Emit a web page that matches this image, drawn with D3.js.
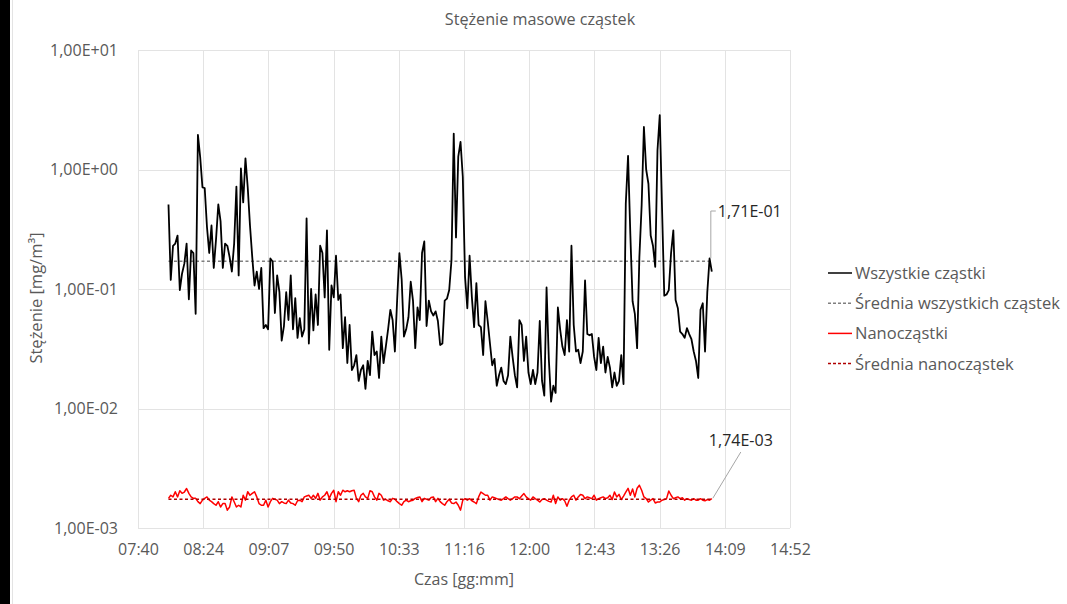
<!DOCTYPE html>
<html>
<head>
<meta charset="utf-8">
<script src="https://cdn.jsdelivr.net/npm/d3@7"></script>
<style>
  body { margin: 0; background: #fff; }
  svg text { font-family: "Open Sans", sans-serif; }
</style>
</head>
<body>
<svg id="chart"></svg>
<script>
'use strict';

// measurement start (08:01 as fraction of day) and sampling step (1.5 min)
var startDay = 481 / 1440;
var stepDay = 1.5 / 1440;

// Wszystkie cząstki [mg/m3]
var allParticles = [
    0.51, 0.119, 0.23, 0.24, 0.28, 0.098, 0.135, 0.163, 0.24, 0.082,
    0.21, 0.20, 0.062, 1.95, 1.27, 0.71, 0.70, 0.33, 0.20, 0.34,
    0.15, 0.26, 0.51, 0.37, 0.15, 0.24, 0.23, 0.185, 0.14, 0.24,
    0.72, 0.13, 1.02, 0.53, 1.24, 0.71, 0.34, 0.185, 0.107, 0.14,
    0.10, 0.15, 0.047, 0.05, 0.046, 0.18, 0.17, 0.063, 0.13, 0.094,
    0.037, 0.049, 0.094, 0.055, 0.13, 0.046, 0.084, 0.039, 0.057, 0.040,
    0.046,
    0.39, 0.035, 0.10, 0.045, 0.09, 0.05, 0.23, 0.20, 0.085, 0.31,
    0.031, 0.107, 0.085, 0.19, 0.081, 0.09, 0.032, 0.058, 0.024, 0.05,
    0.021, 0.023, 0.028, 0.017, 0.021, 0.023, 0.0146, 0.025, 0.019, 0.044,
    0.028, 0.030, 0.018, 0.040, 0.024, 0.033, 0.046, 0.067, 0.055, 0.030,
    0.081, 0.20, 0.12, 0.040, 0.046, 0.058, 0.115, 0.08, 0.032, 0.07,
    0.055, 0.20, 0.25, 0.049, 0.08, 0.065, 0.06, 0.065, 0.054, 0.034,
    0.035, 0.08,
    0.083, 0.098, 0.174, 2.0, 0.27, 1.28, 1.7, 0.87, 0.126, 0.069,
    0.19, 0.086, 0.048, 0.112, 0.05, 0.048, 0.028, 0.079, 0.054, 0.035,
    0.023, 0.026, 0.0155, 0.019, 0.022, 0.017, 0.016, 0.019, 0.040, 0.027,
    0.019, 0.015, 0.055, 0.05, 0.025, 0.040, 0.020, 0.016, 0.021, 0.016,
    0.020, 0.054, 0.017, 0.0128, 0.103, 0.026, 0.0114, 0.0155, 0.0135, 0.070,
    0.046, 0.033, 0.028, 0.055, 0.030, 0.23, 0.05, 0.030, 0.031, 0.024,
    0.030, 0.118,
    0.042, 0.041, 0.042, 0.027, 0.021, 0.039, 0.024, 0.033, 0.020, 0.027,
    0.022, 0.015, 0.020, 0.0155, 0.017, 0.028, 0.016, 0.52, 1.3, 0.29,
    0.079, 0.062, 0.032, 0.185, 0.50, 2.27, 1.0, 0.76, 0.28, 0.23,
    0.153, 1.45, 2.85, 0.48, 0.088, 0.09, 0.098, 0.2, 0.31, 0.081,
    0.069, 0.044, 0.042, 0.039, 0.047, 0.042, 0.038, 0.030, 0.025, 0.018,
    0.067, 0.076, 0.030, 0.094, 0.18, 0.14
];

// Nanocząstki [mg/m3 * 1e-3]
var nanoParticles = [
    1.77, 1.88, 1.82, 2.01, 1.82, 2.05, 1.95, 2.0, 2.14, 1.95,
    1.82, 1.77, 1.77, 1.66, 1.60, 1.71, 1.77, 1.82, 1.71, 1.66,
    1.60, 1.55, 1.66, 1.50, 1.60, 1.60, 1.41, 1.50, 1.82, 1.66,
    1.50, 1.55, 1.50, 1.88, 1.71, 2.01, 1.88, 1.95, 2.01, 1.82,
    1.60, 1.55, 1.55, 1.71, 1.50, 1.66, 1.77, 1.74, 1.71, 1.60,
    1.66, 1.62, 1.60, 1.71, 1.62, 1.60, 1.55, 1.69, 1.71, 1.66,
    1.82, 1.85, 1.88, 1.77, 1.88, 1.77, 1.95, 1.71, 1.82, 1.88,
    2.01, 1.77, 1.95, 2.07, 1.66, 2.01, 1.88, 2.07, 2.01, 2.05,
    2.01, 2.05, 2.07, 1.77, 1.66, 1.88, 1.95, 1.82, 1.77, 2.05,
    2.01, 1.82, 1.71, 1.95, 1.88, 1.71, 1.74, 1.69, 1.66, 1.77,
    1.74, 1.66, 1.60, 1.55, 1.66, 1.71, 1.66, 1.69, 1.71, 1.77,
    1.80, 1.82, 1.66, 1.77, 1.74, 1.71, 1.80, 1.82, 1.66, 1.77,
    1.66, 1.60, 1.55, 1.66, 1.74,
    1.62, 1.60, 1.65, 1.55, 1.41, 1.71, 1.76, 1.71, 1.76, 1.69,
    1.65, 1.60, 1.82, 2.0, 1.94, 1.88, 1.88, 1.71, 1.82, 1.79,
    1.76, 1.73, 1.71, 1.76, 1.82, 1.76, 1.71, 1.76, 1.82, 1.82,
    1.76, 1.85, 1.94, 1.82, 1.76, 1.71, 1.82, 1.76, 1.71, 1.65,
    1.73, 1.76, 1.71, 1.67, 1.65, 1.88, 1.60, 1.82, 1.71, 1.76,
    1.69, 1.52, 1.71, 1.82, 1.88, 1.71, 1.82, 1.91, 1.88, 1.76,
    1.82, 1.79, 1.76, 1.88, 1.71, 1.76, 1.79, 1.82, 1.76, 1.79,
    1.88, 1.73, 2.0, 1.82, 1.91, 1.73, 1.85, 2.0, 2.15, 1.88,
    2.12, 1.82, 2.15, 2.28, 2.07, 1.82, 1.76, 1.65, 1.71, 1.76,
    1.62, 1.65, 1.65, 1.71, 1.73, 1.76, 2.04, 1.88, 1.76, 1.79,
    1.82, 1.76, 1.79, 1.71, 1.76, 1.73, 1.71, 1.76, 1.71, 1.71,
    1.76, 1.71, 1.69, 1.73, 1.71, 1.76
];
var nanoUnit = 1e-3;

// averages
var meanAll = 0.171;
var meanNano = 0.00174;
var meanAllLabel = '1,71E-01';
var meanNanoLabel = '1,74E-03';

// axes
var xTickDays = [0.32, 0.35, 0.38, 0.41, 0.44, 0.47, 0.50, 0.53, 0.56, 0.59, 0.62];
var xTickLabels = ['07:40', '08:24', '09:07', '09:50', '10:33', '11:16', '12:00', '12:43', '13:26', '14:09', '14:52'];
var yTickValues = [1e-3, 1e-2, 1e-1, 1e0, 1e1];
var yTickLabels = ['1,00E-03', '1,00E-02', '1,00E-01', '1,00E+00', '1,00E+01'];

var legendNames = ['Wszystkie cząstki', 'Średnia wszystkich cząstek', 'Nanocząstki', 'Średnia nanocząstek'];

// Setting up the chart area
var canvasWidth = 1067;
var canvasHeight = 604;
var plot = { left: 138, right: 790, top: 50, bottom: 528 };
var textColor = '#595959';
var gridColor = '#e3e3e3';
var fontSize = '16px';

var svg = d3.select('#chart')
    .attr('width', canvasWidth)
    .attr('height', canvasHeight);

svg.append('rect')
    .attr('width', canvasWidth)
    .attr('height', canvasHeight)
    .attr('fill', '#fff');

// dark strip + chart border on the left
svg.append('rect')
    .attr('x', 0).attr('y', 0)
    .attr('width', 10).attr('height', canvasHeight)
    .attr('fill', '#000');
svg.append('line')
    .attr('x1', 12.5).attr('x2', 12.5)
    .attr('y1', 0).attr('y2', canvasHeight)
    .attr('stroke', gridColor);

var xScale = d3.scaleLinear()
    .domain([xTickDays[0], xTickDays[xTickDays.length - 1]])
    .range([plot.left, plot.right]);
var yScale = d3.scaleLog()
    .domain([yTickValues[0], yTickValues[yTickValues.length - 1]])
    .range([plot.bottom, plot.top]);

// gridlines
svg.append('g')
    .selectAll('line')
    .data(yTickValues)
    .enter()
    .append('line')
    .attr('x1', plot.left).attr('x2', plot.right)
    .attr('y1', function(d){ return Math.round(yScale(d)) + 0.5; })
    .attr('y2', function(d){ return Math.round(yScale(d)) + 0.5; })
    .attr('stroke', gridColor);
svg.append('g')
    .selectAll('line')
    .data(xTickDays)
    .enter()
    .append('line')
    .attr('y1', plot.top).attr('y2', plot.bottom)
    .attr('x1', function(d){ return Math.round(xScale(d)) + 0.5; })
    .attr('x2', function(d){ return Math.round(xScale(d)) + 0.5; })
    .attr('stroke', gridColor);

// x and y axis (labels only, gridlines carry the ticks)
var xAxis = svg.append('g')
    .attr('transform', 'translate(0,' + (plot.bottom + 8) + ')')
    .call(d3.axisBottom(xScale)
        .tickValues(xTickDays)
        .tickSize(0)
        .tickFormat(function(d, i){ return xTickLabels[i]; }));
var yAxis = svg.append('g')
    .attr('transform', 'translate(' + (plot.left - 17) + ',0)')
    .call(d3.axisLeft(yScale)
        .tickValues(yTickValues)
        .tickSize(0)
        .tickFormat(function(d, i){ return yTickLabels[i]; }));
[xAxis, yAxis].forEach(function(ax){
    ax.select('.domain').remove();
    ax.selectAll('text')
        .attr('fill', textColor)
        .style('font-size', fontSize);
});
xAxis.selectAll('text').attr('dy', '1em');

// series
function timeOf(i) { return startDay + i * stepDay; }

var allLine = d3.line()
    .x(function(d, i){ return xScale(timeOf(i)); })
    .y(function(d){ return yScale(d); });
var nanoLine = d3.line()
    .x(function(d, i){ return xScale(timeOf(i)); })
    .y(function(d){ return yScale(d * nanoUnit); });

var endDay = timeOf(allParticles.length - 1);

// mean lines
svg.append('line')
    .attr('x1', xScale(startDay)).attr('x2', xScale(endDay))
    .attr('y1', yScale(meanAll)).attr('y2', yScale(meanAll))
    .attr('stroke', '#7f7f7f')
    .attr('stroke-width', 1.5)
    .attr('stroke-dasharray', '3,2.5');

svg.append('path')
    .datum(allParticles)
    .attr('d', allLine)
    .attr('fill', 'none')
    .attr('stroke', '#000')
    .attr('stroke-width', 1.8)
    .attr('stroke-linejoin', 'round');

svg.append('path')
    .datum(nanoParticles)
    .attr('d', nanoLine)
    .attr('fill', 'none')
    .attr('stroke', '#ff0000')
    .attr('stroke-width', 1.5)
    .attr('stroke-linejoin', 'round');

svg.append('line')
    .attr('x1', xScale(startDay)).attr('x2', xScale(endDay))
    .attr('y1', yScale(meanNano)).attr('y2', yScale(meanNano))
    .attr('stroke', '#b00000')
    .attr('stroke-width', 1.5)
    .attr('stroke-dasharray', '3,2.5');

// data labels with leader lines
var endX = xScale(endDay);
svg.append('path')
    .attr('d', 'M' + (endX - 1) + ',' + (yScale(meanAll) - 3) + 'V' + 211 + 'H' + (endX + 4))
    .attr('fill', 'none')
    .attr('stroke', '#a6a6a6')
    .attr('stroke-width', 1);
svg.append('text')
    .attr('x', endX + 6)
    .attr('y', 217)
    .attr('fill', '#262626')
    .style('font-size', fontSize)
    .text(meanAllLabel);

svg.append('line')
    .attr('x1', endX + 1).attr('y1', yScale(meanNano) - 1)
    .attr('x2', endX + 29).attr('y2', 452)
    .attr('stroke', '#a6a6a6')
    .attr('stroke-width', 1);
svg.append('text')
    .attr('x', endX + 29)
    .attr('y', 446)
    .attr('text-anchor', 'middle')
    .attr('fill', '#262626')
    .style('font-size', fontSize)
    .text(meanNanoLabel);

// titles
svg.append('text')
    .attr('x', 540)
    .attr('y', 25)
    .attr('text-anchor', 'middle')
    .attr('fill', textColor)
    .style('font-size', '16.2px')
    .text('Stężenie masowe cząstek');

svg.append('text')
    .attr('x', (plot.left + plot.right) / 2)
    .attr('y', 585)
    .attr('text-anchor', 'middle')
    .attr('fill', textColor)
    .style('font-size', fontSize)
    .text('Czas [gg:mm]');

svg.append('text')
    .attr('transform', 'translate(42,' + 298 + ') rotate(-90)')
    .attr('text-anchor', 'middle')
    .attr('fill', textColor)
    .style('font-size', '16.5px')
    .text('Stężenie [mg/m³]');

// legend
var legendStyles = [
    { color: '#000', dash: null },
    { color: '#7f7f7f', dash: '3,2' },
    { color: '#ff0000', dash: null },
    { color: '#b00000', dash: '3,2' }
];
var legend = svg.append('g')
    .attr('transform', 'translate(828,273)');
var items = legend.selectAll('g')
    .data(legendNames)
    .enter()
    .append('g')
    .attr('transform', function(d, i){ return 'translate(0,' + (i * 30.2) + ')'; });
items.append('line')
    .attr('x1', 0).attr('x2', 24)
    .attr('stroke', function(d, i){ return legendStyles[i].color; })
    .attr('stroke-width', 1.5)
    .attr('stroke-dasharray', function(d, i){ return legendStyles[i].dash; });
items.append('text')
    .attr('x', 27)
    .attr('y', 6)
    .attr('fill', textColor)
    .style('font-size', '16.5px')
    .text(function(d){ return d; });
</script>
</body>
</html>
